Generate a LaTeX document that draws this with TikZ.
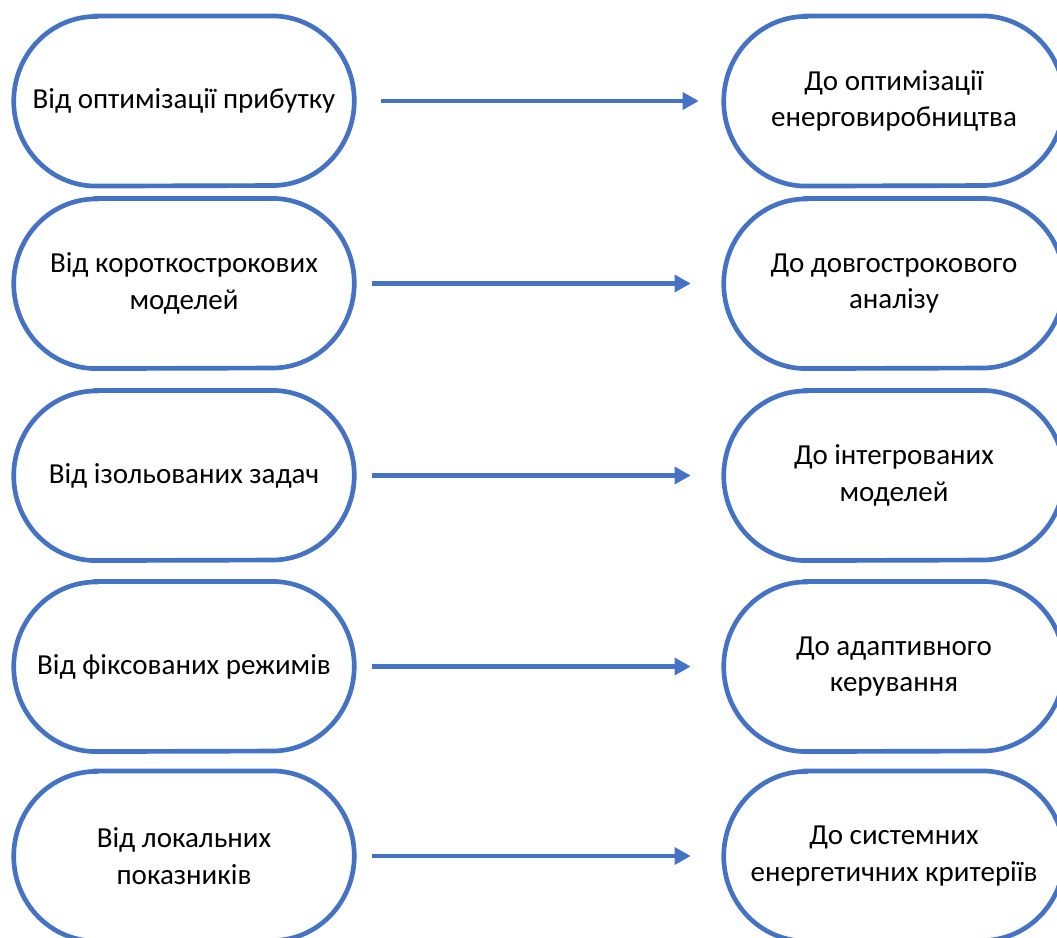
\documentclass[tikz,border=0pt]{standalone}
\usepackage{fontspec}
\setmainfont{Carlito}
\usetikzlibrary{arrows.meta,backgrounds}
\definecolor{ofblue}{HTML}{4472C4}
\newcommand\termshape[1]{%
  \draw[termline] ([xshift=61.5pt]#1.north west) -- ([xshift=-61.5pt]#1.north east)
    arc[start angle=90,end angle=-90,x radius=61.5pt,y radius=63.6pt]
    -- ([xshift=61.5pt]#1.south west)
    arc[start angle=270,end angle=90,x radius=61.5pt,y radius=63.6pt] -- cycle;}
\begin{document}
\begin{tikzpicture}[x=0.75pt,y=-0.75pt,
  box/.style={rectangle, draw=none, minimum width=255pt, minimum height=127.2pt,
    inner sep=0pt, align=center, font=\fontsize{21.75}{27.5}\selectfont},
  termline/.style={draw=ofblue, line width=3.5pt, fill=white},
  arr/.style={draw=ofblue, line width=3.4pt, -{Triangle[length=12pt,width=12.5pt]}},
  firstarr/.style={arr, shorten <=20.25pt, shorten >=18.75pt},
  restarr/.style={arr, shorten <=13.5pt, shorten >=24.75pt}]
\clip (0,0) rectangle (1057,938);
\useasboundingbox (0,0) rectangle (1057,938);

\node[box] (L1) at (184,101) {Від оптимізації прибутку};
\node[box] (L2) at (184,283.5) {Від короткострокових\\моделей};
\node[box] (L3) at (184,475.5) {Від ізольованих задач};
\node[box] (L4) at (184,666.5) {Від фіксованих режимів};
\node[box] (L5) at (184,856) {Від локальних\\показників};

\node[box] (R1) at (894,101) {До оптимізації\\енерговиробництва};
\node[box] (R2) at (894,283.5) {До довгострокового\\аналізу};
\node[box] (R3) at (894,475.5) {До інтегрованих\\моделей};
\node[box] (R4) at (894,666.5) {До адаптивного\\керування};
\node[box] (R5) at (894,856) {До системних\\енергетичних критеріїв};

\begin{scope}[on background layer]
\foreach \n in {L1,L2,L3,L4,L5,R1,R2,R3,R4,R5}{\termshape{\n}}
\end{scope}

\draw[firstarr] (L1) -- (R1);
\draw[restarr] (L2) -- (R2);
\draw[restarr] (L3) -- (R3);
\draw[restarr] (L4) -- (R4);
\draw[restarr] (L5) -- (R5);
\end{tikzpicture}
\end{document}
